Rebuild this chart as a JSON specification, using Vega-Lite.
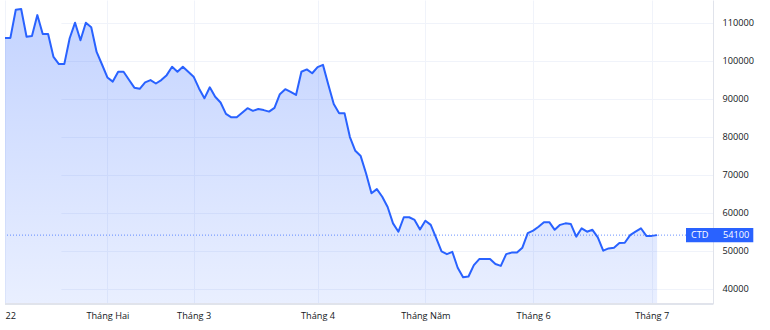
{
  "$schema": "https://vega.github.io/schema/vega-lite/v6.json",
  "width": 708,
  "height": 304,
  "autosize": {"type": "none"},
  "padding": {"left": 5, "top": 0, "right": 57, "bottom": 26},
  "background": "#ffffff",
  "config": {
    "view": {"stroke": null},
    "font": "Open Sans",
    "axis": {"labelFont": "Open Sans", "labelFontSize": 9.2, "labelColor": "#131722", "gridColor": "#f0f3fa", "gridWidth": 1, "domainColor": "#e0e3eb", "ticks": false, "title": null}
  },
  "data": {"values": [
    {"d": "2022-01-04", "p": 106000}, {"d": "2022-01-05", "p": 106000}, {"d": "2022-01-06", "p": 113400}, {"d": "2022-01-07", "p": 113600},
    {"d": "2022-01-10", "p": 106300}, {"d": "2022-01-11", "p": 106500}, {"d": "2022-01-12", "p": 112000}, {"d": "2022-01-13", "p": 107000},
    {"d": "2022-01-14", "p": 107000}, {"d": "2022-01-17", "p": 101000}, {"d": "2022-01-18", "p": 99100}, {"d": "2022-01-19", "p": 99100},
    {"d": "2022-01-20", "p": 105900}, {"d": "2022-01-21", "p": 110000}, {"d": "2022-01-24", "p": 105400}, {"d": "2022-01-25", "p": 110000},
    {"d": "2022-01-26", "p": 108800}, {"d": "2022-01-27", "p": 102300}, {"d": "2022-01-28", "p": 99000},
    {"d": "2022-02-07", "p": 95600}, {"d": "2022-02-08", "p": 94500}, {"d": "2022-02-09", "p": 97100}, {"d": "2022-02-10", "p": 97100},
    {"d": "2022-02-11", "p": 95000}, {"d": "2022-02-14", "p": 92900}, {"d": "2022-02-15", "p": 92600}, {"d": "2022-02-16", "p": 94300},
    {"d": "2022-02-17", "p": 94900}, {"d": "2022-02-18", "p": 94000}, {"d": "2022-02-21", "p": 94900}, {"d": "2022-02-22", "p": 96200},
    {"d": "2022-02-23", "p": 98400}, {"d": "2022-02-24", "p": 97100}, {"d": "2022-02-25", "p": 98400}, {"d": "2022-02-28", "p": 97100},
    {"d": "2022-03-01", "p": 95800}, {"d": "2022-03-02", "p": 92700}, {"d": "2022-03-03", "p": 90100}, {"d": "2022-03-04", "p": 93000},
    {"d": "2022-03-07", "p": 90500}, {"d": "2022-03-08", "p": 89000}, {"d": "2022-03-09", "p": 86000}, {"d": "2022-03-10", "p": 85100},
    {"d": "2022-03-11", "p": 85100}, {"d": "2022-03-14", "p": 86300}, {"d": "2022-03-15", "p": 87500}, {"d": "2022-03-16", "p": 86800},
    {"d": "2022-03-17", "p": 87300}, {"d": "2022-03-18", "p": 87000}, {"d": "2022-03-21", "p": 86600}, {"d": "2022-03-22", "p": 87600},
    {"d": "2022-03-23", "p": 91200}, {"d": "2022-03-24", "p": 92500}, {"d": "2022-03-25", "p": 91800}, {"d": "2022-03-28", "p": 91000},
    {"d": "2022-03-29", "p": 97100}, {"d": "2022-03-30", "p": 97700}, {"d": "2022-03-31", "p": 96700},
    {"d": "2022-04-01", "p": 98300}, {"d": "2022-04-04", "p": 98900}, {"d": "2022-04-05", "p": 93700}, {"d": "2022-04-06", "p": 88600},
    {"d": "2022-04-07", "p": 86200}, {"d": "2022-04-08", "p": 86200}, {"d": "2022-04-12", "p": 79900}, {"d": "2022-04-13", "p": 76300},
    {"d": "2022-04-14", "p": 74900}, {"d": "2022-04-15", "p": 70300}, {"d": "2022-04-18", "p": 65100}, {"d": "2022-04-19", "p": 66200},
    {"d": "2022-04-20", "p": 64200}, {"d": "2022-04-21", "p": 61500}, {"d": "2022-04-22", "p": 57200}, {"d": "2022-04-25", "p": 55000},
    {"d": "2022-04-26", "p": 58800}, {"d": "2022-04-27", "p": 58800}, {"d": "2022-04-28", "p": 58100}, {"d": "2022-04-29", "p": 55600},
    {"d": "2022-05-04", "p": 57900}, {"d": "2022-05-05", "p": 56800}, {"d": "2022-05-06", "p": 53400}, {"d": "2022-05-09", "p": 49800},
    {"d": "2022-05-10", "p": 49100}, {"d": "2022-05-11", "p": 49700}, {"d": "2022-05-12", "p": 45500}, {"d": "2022-05-13", "p": 43000},
    {"d": "2022-05-16", "p": 43200}, {"d": "2022-05-17", "p": 46200}, {"d": "2022-05-18", "p": 47800}, {"d": "2022-05-19", "p": 47800},
    {"d": "2022-05-20", "p": 47800}, {"d": "2022-05-23", "p": 46500}, {"d": "2022-05-24", "p": 46000}, {"d": "2022-05-25", "p": 49100},
    {"d": "2022-05-26", "p": 49500}, {"d": "2022-05-27", "p": 49500}, {"d": "2022-05-30", "p": 50800}, {"d": "2022-05-31", "p": 54600},
    {"d": "2022-06-01", "p": 55300}, {"d": "2022-06-02", "p": 56300}, {"d": "2022-06-03", "p": 57500}, {"d": "2022-06-06", "p": 57500},
    {"d": "2022-06-07", "p": 55500}, {"d": "2022-06-08", "p": 56800}, {"d": "2022-06-09", "p": 57200}, {"d": "2022-06-10", "p": 57000},
    {"d": "2022-06-13", "p": 53700}, {"d": "2022-06-14", "p": 55900}, {"d": "2022-06-15", "p": 55000}, {"d": "2022-06-16", "p": 55500},
    {"d": "2022-06-17", "p": 53500}, {"d": "2022-06-20", "p": 50000}, {"d": "2022-06-21", "p": 50600}, {"d": "2022-06-22", "p": 50800},
    {"d": "2022-06-23", "p": 52000}, {"d": "2022-06-24", "p": 52100}, {"d": "2022-06-27", "p": 54100}, {"d": "2022-06-28", "p": 55000},
    {"d": "2022-06-29", "p": 55900}, {"d": "2022-06-30", "p": 53900},
    {"d": "2022-07-01", "p": 53900}, {"d": "2022-07-04", "p": 54100}
  ]},
  "layer": [
    {
      "mark": {"type": "area", "clip": true, "color": {"gradient": "linear", "x1": 0, "y1": 0, "x2": 0, "y2": 1, "stops": [{"offset": 0, "color": "rgba(41,98,255,0.28)"}, {"offset": 1, "color": "rgba(41,98,255,0.02)"}]}},
      "encoding": {
        "x": {"field": "d", "type": "ordinal", "sort": "ascending",
          "scale": {"type": "point", "padding": 0, "range": [0, 652.1]},
          "axis": {"orient": "bottom", "domain": false, "values": ["2022-01-04", "2022-02-07", "2022-03-01", "2022-04-01", "2022-05-04", "2022-06-01", "2022-07-01"],
            "labelExpr": "datum.value == '2022-01-04' ? '22' : datum.value == '2022-02-07' ? 'Tháng Hai' : datum.value == '2022-03-01' ? 'Tháng 3' : datum.value == '2022-04-01' ? 'Tháng 4' : datum.value == '2022-05-04' ? 'Tháng Năm' : datum.value == '2022-06-01' ? 'Tháng 6' : 'Tháng 7'",
            "labelAlign": {"expr": "datum.value == '2022-01-04' ? 'left' : 'center'"},
            "labelAngle": 0, "labelPadding": 7, "labelOverlap": false, "grid": true}},
        "y": {"field": "p", "type": "quantitative",
          "scale": {"domain": [35974, 115974], "zero": false, "nice": false},
          "axis": {"orient": "right", "values": [40000, 50000, 60000, 70000, 80000, 90000, 100000, 110000], "format": "d", "labelPadding": 9, "grid": true}},
        "y2": {"value": "height"}
      }
    },
    {
      "mark": {"type": "line", "color": "#2962FF", "strokeWidth": 2, "strokeJoin": "round"},
      "encoding": {
        "x": {"field": "d", "type": "ordinal", "sort": "ascending"},
        "y": {"field": "p", "type": "quantitative"}
      }
    },
    {
      "mark": {"type": "rule", "color": "#e0e3eb", "strokeWidth": 1},
      "encoding": {"y": {"value": "height"}}
    },
    {
      "transform": [{"filter": "datum.d == '2022-07-04'"}],
      "mark": {"type": "rule", "color": "#2962FF", "strokeWidth": 1, "strokeDash": [1, 2], "opacity": 0.7},
      "encoding": {"y": {"field": "p", "type": "quantitative"}}
    },
    {
      "transform": [{"filter": "datum.d == '2022-07-04'"}],
      "mark": {"type": "point", "filled": true, "color": "#2962FF", "opacity": 1, "strokeWidth": 0, "size": 10000, "shape": "M-0.54,-0.144L0.806,-0.144L0.806,0.144L-0.54,0.144Z"},
      "encoding": {"x": {"value": "width"}, "y": {"field": "p", "type": "quantitative"}}
    },
    {
      "transform": [{"filter": "datum.d == '2022-07-04'"}],
      "mark": {"type": "text", "text": "CTD", "align": "left", "baseline": "middle", "dx": -22, "color": "#ffffff", "font": "Open Sans", "fontSize": 9.2},
      "encoding": {"x": {"value": "width"}, "y": {"field": "p", "type": "quantitative"}}
    },
    {
      "transform": [{"filter": "datum.d == '2022-07-04'"}],
      "mark": {"type": "text", "align": "left", "baseline": "middle", "dx": 10, "color": "#ffffff", "font": "Open Sans", "fontSize": 9.2},
      "encoding": {"x": {"value": "width"}, "y": {"field": "p", "type": "quantitative"}, "text": {"field": "p", "type": "quantitative", "format": "d"}}
    }
  ]
}
